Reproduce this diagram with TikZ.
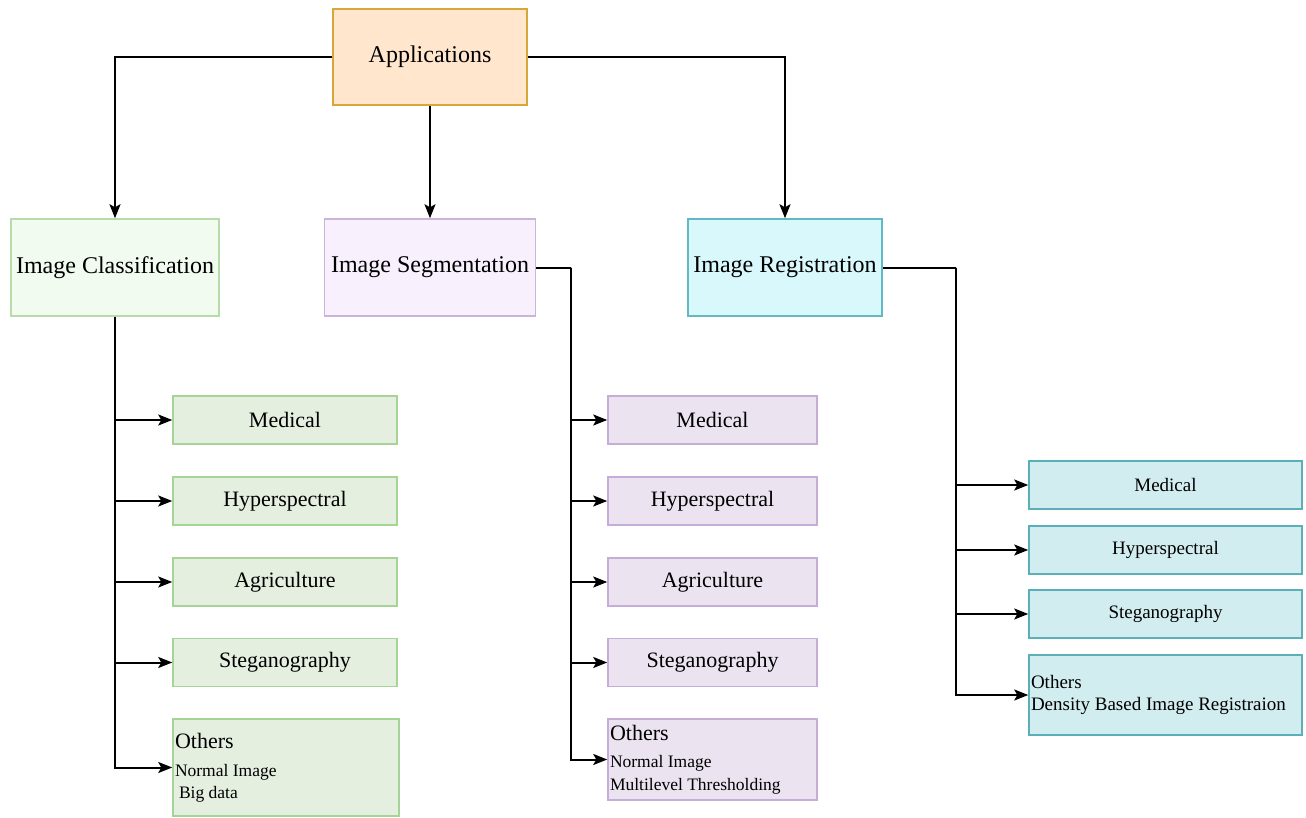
\documentclass[tikz,border=0pt]{standalone}
\usepackage{fontspec}
\setmainfont{Liberation Serif}
\usetikzlibrary{arrows.meta}
\definecolor{appfill}{HTML}{FFE6CC}
\definecolor{appdraw}{HTML}{D9A63A}
\definecolor{clsfill}{HTML}{F1FBEF}
\definecolor{clsdraw}{HTML}{B7DCA9}
\definecolor{segfill}{HTML}{F8F0FC}
\definecolor{segdraw}{HTML}{CBB3DB}
\definecolor{regfill}{HTML}{D8F8FB}
\definecolor{regdraw}{HTML}{62B9C1}
\definecolor{grfill}{HTML}{E4EFE0}
\definecolor{grdraw}{HTML}{A6D396}
\definecolor{pufill}{HTML}{EBE3F0}
\definecolor{pudraw}{HTML}{C6ADD7}
\definecolor{cyfill}{HTML}{D2EDF0}
\definecolor{cydraw}{HTML}{5BAFB6}
\begin{document}
\begin{tikzpicture}[x=1pt,y=-1pt,
  box/.style={draw,line width=1.5pt,inner sep=0pt,align=center},
  arr/.style={line width=2pt,-{Stealth[length=14pt,width=11pt,inset=3pt]}},
  big/.style={font=\fontsize{24}{28}\selectfont},
  mid/.style={font=\fontsize{22}{26}\selectfont},
  sml/.style={font=\fontsize{19}{22}\selectfont}]

\useasboundingbox (0,0) rectangle (1306,817);

% top level
\node[box,big,fill=appfill,draw=appdraw,minimum width=194pt,minimum height=96pt] (app) at (430,57) {\raisebox{-3pt}{Applications}};

\node[box,big,fill=clsfill,draw=clsdraw,minimum width=208pt,minimum height=97pt] (cls) at (115,267.5) {\raisebox{-3pt}{Image Classification}};
\node[box,big,fill=segfill,draw=segdraw,minimum width=211pt,minimum height=97pt] (seg) at (430,267.5) {\raisebox{-3pt}{Image Segmentation}};
\node[box,big,fill=regfill,draw=regdraw,minimum width=194pt,minimum height=97pt] (reg) at (785,267.5) {\raisebox{-3pt}{Image Registration}};

\draw[arr] (app.west) -| (cls.north);
\draw[arr] (app.south) -- (seg.north);
\draw[arr] (app.east) -| (reg.north);

% classification
\tikzset{gbox/.style={box,mid,fill=grfill,draw=grdraw,minimum width=224pt,minimum height=48pt}}
\node[gbox] (c1) at (285,420) {Medical};
\node[gbox] (c2) at (285,501) {Hyperspectral};
\node[gbox] (c3) at (285,582) {Agriculture};
\node[gbox] (c4) at (285,662.5) {Steganography};
\node[gbox,minimum width=226pt,minimum height=97pt,text width=222pt,align=flush left] (c5) at (286,767.5)
  {Others\\[6pt]\fontsize{17.5}{21.5}\selectfont Normal Image\\[-4pt]\hspace*{4pt}Big data};

\foreach \n in {c1,c2,c3,c4,c5}
  \draw[arr] (cls.south) |- (\n.west);

% segmentation
\tikzset{pbox/.style={box,mid,fill=pufill,draw=pudraw,minimum width=209pt,minimum height=48pt}}
\node[pbox] (s1) at (712.5,420) {Medical};
\node[pbox] (s2) at (712.5,501) {Hyperspectral};
\node[pbox] (s3) at (712.5,582) {Agriculture};
\node[pbox] (s4) at (712.5,662.5) {Steganography};
\node[pbox,minimum height=81pt,text width=205pt,align=flush left] (s5) at (712.5,759.5)
  {Others\\[5pt]\fontsize{17.5}{22}\selectfont Normal Image\\[-3pt]Multilevel Thresholding};

\coordinate (sj) at (571,267.5);
\draw[line width=2pt] (seg.east) -- (sj);
\foreach \n in {s1,s2,s3,s4,s5}
  \draw[arr] (sj) |- (\n.west);

% registration
\tikzset{cbox/.style={box,sml,fill=cyfill,draw=cydraw,minimum width=273pt,minimum height=48pt}}
\node[cbox] (r1) at (1165.5,485) {Medical};
\node[cbox] (r2) at (1165.5,550) {Hyperspectral};
\node[cbox] (r3) at (1165.5,614) {Steganography};
\node[cbox,minimum height=80pt,text width=269pt,align=flush left] (r4) at (1165.5,695)
  {Others\\Density Based Image Registraion};

\coordinate (rj) at (956,267.5);
\draw[line width=2pt] (reg.east) -- (rj);
\foreach \n in {r1,r2,r3,r4}
  \draw[arr] (rj) |- (\n.west);

\end{tikzpicture}
\end{document}
